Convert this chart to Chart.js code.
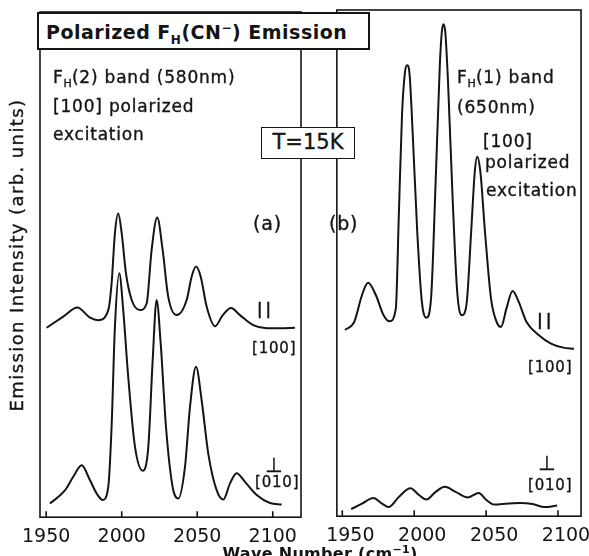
<!DOCTYPE html>
<html>
<head>
<meta charset="utf-8">
<script src="https://cdn.jsdelivr.net/npm/chart.js@4.4.1/dist/chart.umd.min.js"></script>
<style>
    body { margin: 0; background: #fff; }
    #page { position: relative; width: 589px; height: 556px; overflow: hidden; font-family: "DejaVu Sans", sans-serif; color: #141414; }
    .panel { position: absolute; top: 0; height: 556px; }
    .note { position: absolute; white-space: nowrap; font-size: 17px; letter-spacing: 0.8px; line-height: 1; -webkit-text-stroke: 0.35px #141414; }
    .note sub { font-size: 11px; vertical-align: -4px; line-height: 0; letter-spacing: 0; }
    .bars { font-weight: bold; letter-spacing: 3px; }
    .box { position: absolute; background: #fff; border: 2px solid #141414; box-sizing: border-box; z-index: 5; white-space: nowrap; }
    #title { left: 37px; top: 12px; width: 333px; height: 38px; font-size: 19px; letter-spacing: 0.5px; font-weight: bold; padding: 7px 0 0 7px; }
    #title sub { font-size: 12px; vertical-align: -5px; line-height: 0; }
    #title sup { font-size: 12px; vertical-align: 7px; line-height: 0; }
    #temp { left: 261px; top: 127px; width: 94px; height: 32px; font-size: 21px; text-align: center; line-height: 28px; border-width: 1.5px; -webkit-text-stroke: 0.35px #141414; }
    #ytitle { position: absolute; left: -143px; top: 245px; width: 320px; height: 20px; text-align: center; font-size: 18px; letter-spacing: 1.4px; line-height: 20px; transform: rotate(-90deg); -webkit-text-stroke: 0.35px #141414; }
    #xtitle { position: absolute; left: 170px; top: 544px; width: 300px; text-align: center; font-size: 16px; font-weight: bold; letter-spacing: 0.3px; line-height: 1; }
</style>
</head>
<body>
<div id="page">
    <div class="panel" style="left:0;width:310px"><canvas id="chartA"></canvas></div>
    <div class="panel" style="left:310px;width:279px"><canvas id="chartB"></canvas></div>

    <div class="box" id="title">Polarized F<sub>H</sub>(CN<sup>&minus;</sup>) Emission</div>
    <div class="box" id="temp">T=15K</div>
    <div id="ytitle">Emission Intensity (arb. units)</div>
    <div id="xtitle">Wave Number (cm<sup style="font-size:11px">&minus;1</sup>)</div>

    <div class="note" style="left:53px;top:69px">F<sub>H</sub>(2) band (580nm)</div>
    <div class="note" style="left:53px;top:98px">[100] polarized</div>
    <div class="note" style="left:53px;top:126px">excitation</div>
    <div class="note" style="left:253px;top:214px;font-size:19px">(a)</div>
    <div class="note bars" style="left:257px;top:302px;font-size:15px">||</div>
    <div class="note" style="left:252px;top:341px;font-size:15px">[100]</div>
    <div class="note" style="left:265px;top:455px;font-size:20px">&perp;</div>
    <div class="note" style="left:255px;top:475px;font-size:15px">[010]</div>

    <div class="note" style="left:457px;top:69px">F<sub>H</sub>(1) band</div>
    <div class="note" style="left:457px;top:99px">(650nm)</div>
    <div class="note" style="left:483px;top:133px">[100]</div>
    <div class="note" style="left:485px;top:154px">polarized</div>
    <div class="note" style="left:486px;top:182px">excitation</div>
    <div class="note" style="left:329px;top:214px;font-size:19px">(b)</div>
    <div class="note bars" style="left:537px;top:312px;font-size:16px">||</div>
    <div class="note" style="left:528px;top:360px;font-size:15px">[100]</div>
    <div class="note" style="left:538px;top:453px;font-size:20px">&perp;</div>
    <div class="note" style="left:528px;top:478px;font-size:15px">[010]</div>
</div>

<script>
var ink = '#141414';
var tickValues = [1950, 2000, 2050, 2100];

// (a) FH(2) band, parallel [100]
var waveA_par = [1950.3, 1961.3, 1970.6, 1979, 1984.5, 1991.1, 1993.3, 1995.5, 1997.7, 2000, 2002.8, 2006.6, 2012.1, 2016.5, 2019.8, 2023.5, 2027.1, 2030.8, 2036.4, 2043, 2046.3, 2049.2, 2052.3, 2056.3, 2061.8, 2066.9, 2072.4, 2078.3, 2087.1, 2096, 2104.8, 2114.7];
var intA_par = [37.5, 39.7, 41.5, 39.5, 39.0, 41.0, 46.3, 56.2, 60.1, 56.2, 48.3, 43.0, 41.0, 42.3, 52.9, 59.3, 52.9, 43.6, 40.0, 43.0, 47.6, 49.6, 47.6, 41.6, 37.8, 40.0, 41.4, 40.0, 38.0, 37.4, 37.4, 37.5];

// (a) perpendicular [010]
var waveA_perp = [1952.5, 1962.4, 1967.9, 1973.5, 1979, 1983.4, 1987.4, 1991.1, 1993.3, 1995.5, 1998.4, 2001, 2004.3, 2008.8, 2013.9, 2017.6, 2020.5, 2023.1, 2025.8, 2029.3, 2033.7, 2037.5, 2041.9, 2045.2, 2049.2, 2052.9, 2057.3, 2062.9, 2067.3, 2071.7, 2076.1, 2081.6, 2089.4, 2098.2, 2105.9];
var intA_perp = [2.7, 5.3, 8.0, 10.3, 7.3, 4.7, 3.4, 6.0, 17.9, 37.7, 48.3, 41.0, 27.8, 13.9, 9.2, 13.9, 31.1, 43.0, 34.4, 17.9, 6.0, 3.7, 10.0, 21.8, 29.8, 23.2, 12.6, 5.3, 3.5, 6.7, 8.7, 7.0, 4.4, 2.8, 2.5];

// (b) FH(1) band, parallel [100]
var waveB_par = [1951.9, 1958.3, 1963.7, 1967.9, 1973.3, 1978.7, 1982.9, 1987.2, 1989.3, 1991.5, 1993.6, 1995.1, 1996.8, 1998.9, 2002.1, 2005.3, 2008.5, 2011.7, 2014.9, 2017.8, 2019.2, 2020.3, 2021.6, 2023.5, 2026.7, 2029.9, 2033.1, 2036.3, 2039.6, 2042.1, 2043.8, 2046, 2049.2, 2053.4, 2057.7, 2060.4, 2064.1, 2068.4, 2072.6, 2078, 2086.5, 2095.1, 2103.7, 2111.1];
var intB_par = [36.8, 38.4, 43.7, 46.1, 43.7, 39.7, 38.5, 41.0, 59.5, 79.2, 87.8, 89.1, 87.2, 75.9, 56.2, 42.4, 39.2, 43.0, 66.1, 89.1, 95.7, 97.2, 95.7, 85.8, 62.8, 44.3, 39.7, 41.7, 56.2, 68.0, 71.0, 68.0, 56.2, 43.0, 38.1, 37.4, 41.0, 44.5, 42.4, 38.4, 35.8, 34.1, 33.3, 33.1];

// (b) perpendicular [010]
var waveB_perp = [1956.2, 1963.7, 1971.6, 1977.6, 1982.2, 1989.3, 1997.4, 2003.2, 2008.5, 2014.9, 2021.3, 2028.8, 2037.4, 2044.9, 2050.2, 2055.6, 2065.2, 2073.7, 2082.2, 2090.7, 2099.4];
var intB_perp = [1.4, 2.5, 3.6, 2.5, 1.8, 3.8, 5.5, 4.2, 3.3, 4.8, 5.8, 4.8, 3.7, 4.6, 3.2, 2.3, 2.5, 2.6, 2.4, 1.8, 2.1];

function toPoints(xs, ys) {
    return xs.map(function (x, i) { return { x: x, y: ys[i] }; });
}

function curve(xs, ys) {
    return {
        data: toPoints(xs, ys),
        borderColor: ink,
        borderWidth: 2,
        pointRadius: 0,
        fill: false,
        cubicInterpolationMode: 'monotone'
    };
}

// box around the plot area and small ticks pointing inward
var framePlugin = {
    id: 'frame',
    afterDraw: function (chart) {
        var a = chart.chartArea, ctx = chart.ctx, xs = chart.scales.x;
        ctx.save();
        ctx.strokeStyle = ink;
        ctx.lineWidth = 1.6;
        ctx.strokeRect(a.left, a.top, a.right - a.left, a.bottom - a.top);
        ctx.beginPath();
        xs.ticks.forEach(function (t) {
            var px = xs.getPixelForValue(t.value);
            ctx.moveTo(px, a.bottom);
            ctx.lineTo(px, a.bottom - 6);
        });
        ctx.stroke();
        ctx.restore();
    }
};

function makeChart(id, datasets, xMin, xMax, pad, labelOffset) {
    return new Chart(document.getElementById(id), {
        type: 'line',
        data: { datasets: datasets },
        options: {
            responsive: true,
            maintainAspectRatio: false,
            animation: false,
            layout: { padding: pad },
            plugins: { legend: { display: false }, tooltip: { enabled: false } },
            scales: {
                x: {
                    type: 'linear',
                    min: xMin,
                    max: xMax,
                    afterBuildTicks: function (scale) {
                        scale.ticks = tickValues.map(function (v) { return { value: v }; });
                    },
                    grid: { display: false, drawTicks: false },
                    border: { display: false },
                    ticks: {
                        color: ink,
                        padding: 8,
                        labelOffset: labelOffset,
                        maxRotation: 0,
                        font: { family: 'DejaVu Sans', size: 19 },
                        callback: function (v) { return String(v); }
                    }
                },
                y: { display: false, min: 0, max: 100 }
            }
        },
        plugins: [framePlugin]
    });
}

makeChart('chartA', [curve(waveA_par, intA_par), curve(waveA_perp, intA_perp)],
    1945.9, 2118.7, { left: 40, right: 9, top: 12, bottom: 0 }, 0);
makeChart('chartB', [curve(waveB_par, intB_par), curve(waveB_perp, intB_perp)],
    1946.2, 2116.0, { left: 7, right: 7, top: 10, bottom: 1 }, 8);
</script>
</body>
</html>
